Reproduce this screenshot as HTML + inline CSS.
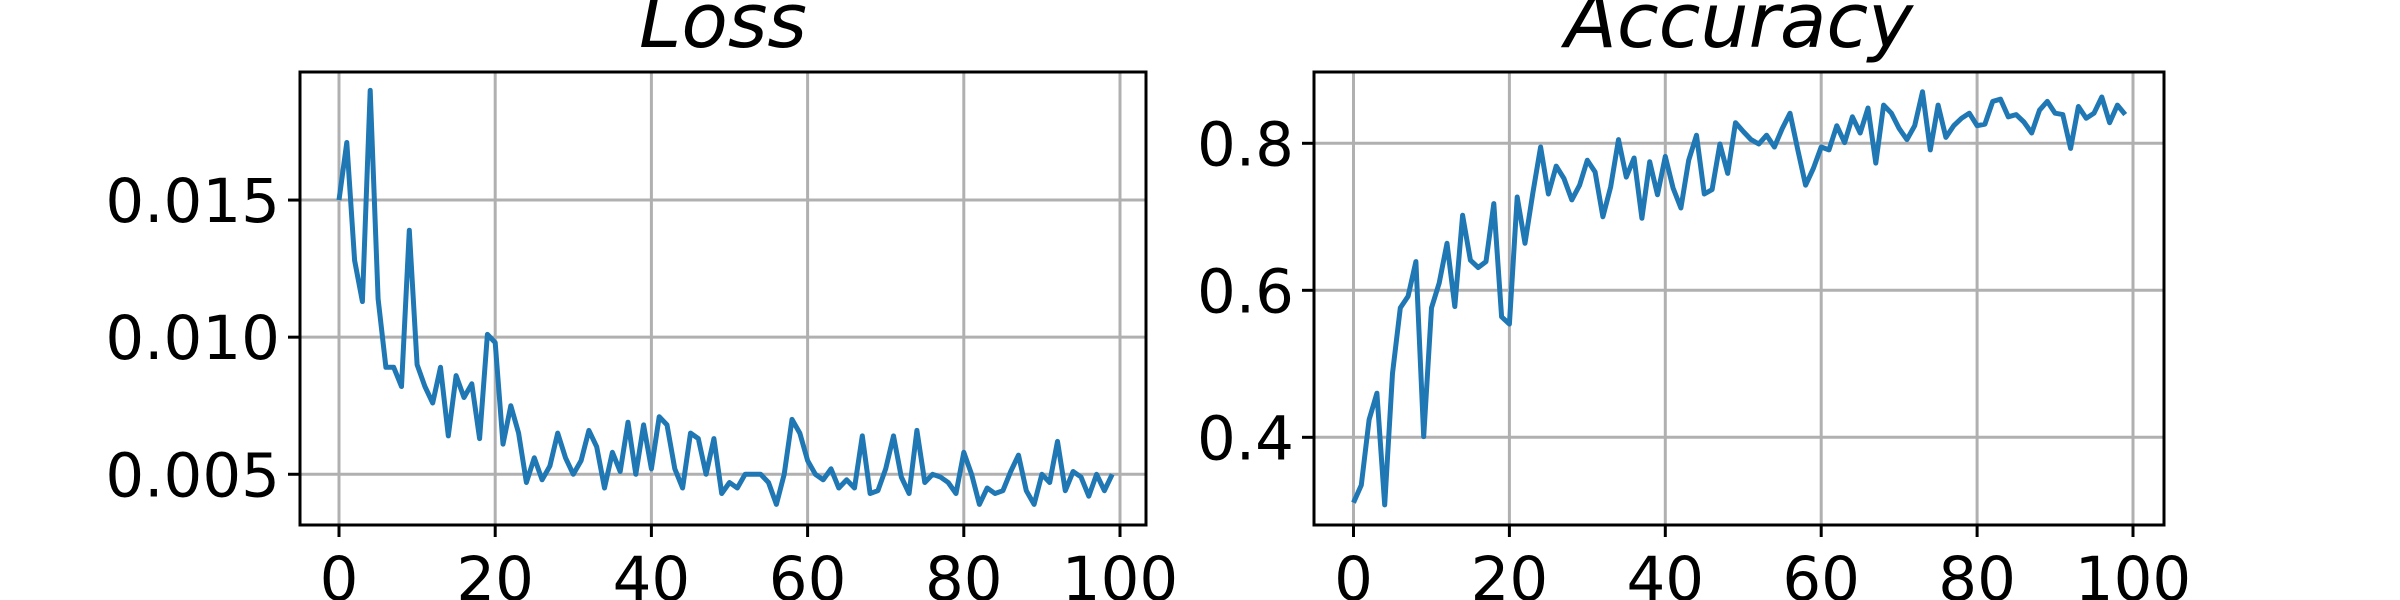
<!DOCTYPE html>
<html><head><meta charset="utf-8"><style>
html,body{margin:0;padding:0;background:#fff;width:2400px;height:600px;overflow:hidden}
svg text{font-family:"DejaVu Sans","Liberation Sans",sans-serif;fill:#000}
</style></head><body>
<svg id="chart" width="2400" height="600" viewBox="0 0 2400 600" xmlns="http://www.w3.org/2000/svg"></svg>
<script>
const epochs = Array.from({length:100},(_,i)=>i);
const lossValues = [.0150,.0171,.0128,.0113,.0190,.0114,.0089,.0089,.0082,.0139,.0090,.0082,.0076,.0089,.0064,.0086,.0078,.0083,.0063,.0101,
.0098,.0061,.0075,.0065,.0047,.0056,.0048,.0053,.0065,.0056,.0050,.0055,.0066,.0060,.0045,.0058,.0051,.0069,.0050,.0068,
.0052,.0071,.0068,.0052,.0045,.0065,.0063,.0050,.0063,.0043,.0047,.0045,.0050,.0050,.0050,.0047,.0039,.0050,.0070,.0065,
.0055,.0050,.0048,.0052,.0045,.0048,.0045,.0064,.0043,.0044,.0052,.0064,.0049,.0043,.0066,.0047,.0050,.0049,.0047,.0043,
.0058,.0050,.0039,.0045,.0043,.0044,.0051,.0057,.0044,.0039,.0050,.0047,.0062,.0044,.0051,.0049,.0042,.0050,.0044,.0050];
const accValues = [.311,.335,.424,.460,.308,.487,.576,.592,.639,.401,.576,.610,.664,.578,.702,.641,.631,.639,.718,.564,
.554,.727,.664,.732,.795,.731,.769,.752,.723,.743,.777,.761,.700,.741,.805,.754,.780,.698,.775,.730,
.782,.739,.712,.777,.811,.731,.737,.799,.759,.828,.816,.805,.799,.811,.795,.820,.841,.791,.743,.766,
.795,.791,.824,.801,.836,.814,.848,.773,.852,.841,.820,.805,.824,.870,.791,.852,.808,.824,.834,.841,
.824,.826,.857,.860,.836,.839,.829,.814,.845,.857,.841,.839,.793,.850,.834,.841,.863,.828,.852,.839];
const xTicks = [0,20,40,60,80,100];
const lossTicks = [0.005,0.010,0.015];
const lossTickLabels = ["0.005","0.010","0.015"];
const accTicks = [0.4,0.6,0.8];
const accTickLabels = ["0.4","0.6","0.8"];

const svg=document.getElementById('chart');
const NS='http://www.w3.org/2000/svg';
function mk(tag,attrs,parent){const e=document.createElementNS(NS,tag);for(const k in attrs)e.setAttribute(k,attrs[k]);(parent||svg).appendChild(e);return e;}

function panel(cfg){
  const g=mk('g',{});
  
  
  const {L,R,T,B,x0px,x100px,ymin,ymax}=cfg;
  const xs=v=>x0px+(x100px-x0px)*v/100;
  const ys=v=>B-(v-ymin)/(ymax-ymin)*(B-T);
  xTicks.forEach(t=>{
    const l=mk('line',{x1:xs(t),x2:xs(t),y1:T,y2:B,stroke:'#b0b0b0','stroke-width':3},g);
    
    
    mk('line',{x1:xs(t),x2:xs(t),y1:B,y2:B+12,stroke:'#000','stroke-width':3},g);
    const tx=mk('text',{x:xs(t),y:B+75,'font-size':61,'text-anchor':'middle'},g);
    tx.textContent=t;
    
    
  });
  cfg.yt.forEach((t,i)=>{
    const l=mk('line',{x1:L,x2:R,y1:ys(t),y2:ys(t),stroke:'#b0b0b0','stroke-width':3},g);
    
    
    mk('line',{x1:L-12,x2:L,y1:ys(t),y2:ys(t),stroke:'#000','stroke-width':3},g);
    const tx=mk('text',{x:L-20,y:ys(t)+22,'font-size':61,'text-anchor':'end'},g);
    tx.textContent=cfg.ytl[i];
    
    
  });
  const d=cfg.vals.map((v,i)=>(i?'L':'M')+xs(epochs[i]).toFixed(1)+','+ys(v).toFixed(1)).join(' ');
  const p=mk('path',{d:d,fill:'none',stroke:'#1f77b4','stroke-width':5,'stroke-linejoin':'round'},g);
  
  
  const fr=mk('rect',{x:L,y:T,width:R-L,height:B-T,fill:'none',stroke:'#000','stroke-width':3},g);
  
  
  const ti=mk('text',{x:(L+R)/2,y:47,'font-size':76,'font-style':'italic','text-anchor':'middle'},g);
  ti.textContent=cfg.title;
  
  
}
panel({name:'loss',title:'Loss',L:300,R:1146,T:72,B:525,x0px:339,x100px:1120,ymin:0.00315,ymax:0.01967,vals:lossValues,yt:lossTicks,ytl:lossTickLabels});
panel({name:'accuracy',title:'Accuracy',L:1314,R:2164,T:72,B:525,x0px:1353.5,x100px:2133,ymin:0.2807,ymax:0.897,vals:accValues,yt:accTicks,ytl:accTickLabels});
</script>
</body></html>
